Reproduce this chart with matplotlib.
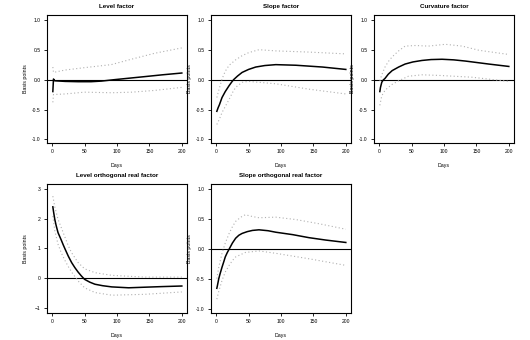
import numpy as np
import matplotlib
matplotlib.use('Agg')
import matplotlib.pyplot as plt

# ===================== 全局设置 =====================
plt.rcParams['font.family'] = ['Liberation Sans', 'DejaVu Sans']
plt.rcParams['axes.linewidth'] = 0.8

# ===================== 数据 =====================
TITLES = ['Level factor', 'Slope factor', 'Curvature factor',
          'Level orthogonal real factor', 'Slope orthogonal real factor']
X_TICKS = [0, 50, 100, 150, 200]

# Level factor
level_days = [1, 2, 4, 20, 40, 60, 76, 97, 120, 143, 170, 200]
level_irf = [-0.2, 0.01, -0.02, -0.03, -0.035, -0.035, -0.025, 0.0, 0.025, 0.05, 0.08, 0.11]
level_up_days = [1, 2, 20, 50, 91, 122, 158, 200]
level_up = [0.21, 0.12, 0.16, 0.2, 0.25, 0.34, 0.44, 0.53]
level_lo_days = [1, 2, 20, 50, 92, 123, 159, 200]
level_lo = [-0.38, -0.25, -0.24, -0.21, -0.22, -0.21, -0.18, -0.13]

# Slope factor
slope_days = [1, 3, 5, 7, 9, 12, 14, 17, 20, 24, 27, 33, 40, 50, 61, 75, 92, 123, 164, 200]
slope_irf = [-0.53, -0.47, -0.42, -0.36, -0.30, -0.24, -0.2, -0.15, -0.1, -0.04, 0.0, 0.06,
             0.12, 0.17, 0.21, 0.235, 0.25, 0.24, 0.21, 0.17]
slope_up_days = [1, 5, 9, 14, 20, 30, 40, 50, 66, 92, 143, 200]
slope_up = [-0.3, -0.14, 0.01, 0.14, 0.24, 0.33, 0.4, 0.45, 0.5, 0.48, 0.46, 0.43]
slope_lo_days = [1, 5, 9, 14, 20, 25, 30, 40, 50, 92, 143, 200]
slope_lo = [-0.75, -0.66, -0.55, -0.45, -0.33, -0.22, -0.13, -0.045, -0.03, -0.07, -0.16, -0.24]

# Curvature factor
curv_days = [1, 2, 4, 6, 9, 14, 20, 30, 40, 52, 66, 80, 97, 115, 133, 169, 200]
curv_irf = [-0.2, -0.13, -0.045, -0.01, 0.02, 0.09, 0.15, 0.21, 0.26, 0.295, 0.32, 0.335,
            0.34, 0.33, 0.31, 0.26, 0.22]
curv_up_days = [1, 4, 9, 14, 20, 30, 40, 56, 76, 102, 128, 154, 200]
curv_up = [-0.02, 0.08, 0.21, 0.3, 0.38, 0.48, 0.56, 0.57, 0.56, 0.59, 0.56, 0.49, 0.42]
curv_lo_days = [1, 4, 9, 14, 20, 30, 45, 66, 92, 143, 200]
curv_lo = [-0.43, -0.27, -0.18, -0.13, -0.08, -0.02, 0.056, 0.08, 0.07, 0.04, -0.03]

# Level orthogonal real factor
lor_days = [1, 2, 4, 6, 9, 12, 14, 17, 20, 25, 30, 35, 40, 45, 50, 58, 66, 78, 92, 118,
            143, 169, 200]
lor_irf = [2.4, 2.25, 1.98, 1.78, 1.53, 1.38, 1.28, 1.12, 0.97, 0.73, 0.52, 0.35, 0.2,
           0.07, -0.045, -0.14, -0.21, -0.26, -0.30, -0.33, -0.31, -0.29, -0.27]
lor_up_days = [1, 4, 9, 14, 20, 25, 30, 40, 50, 66, 92, 143, 200]
lor_up = [2.76, 2.4, 1.98, 1.7, 1.36, 1.08, 0.85, 0.52, 0.31, 0.18, 0.09, 0.03, 0.03]
lor_lo_days = [1, 4, 9, 14, 20, 25, 30, 40, 50, 66, 92, 143, 200]
lor_lo = [2.09, 1.6, 1.14, 0.85, 0.58, 0.38, 0.2, -0.1, -0.33, -0.49, -0.58, -0.55, -0.47]

# Slope orthogonal real factor
sor_days = [1, 2, 4, 6, 9, 12, 14, 17, 20, 25, 30, 35, 40, 48, 56, 66, 80, 92, 118, 143,
            169, 200]
sor_irf = [-0.65, -0.6, -0.49, -0.41, -0.30, -0.2, -0.13, -0.06, 0.0, 0.1, 0.18, 0.23,
           0.26, 0.29, 0.31, 0.32, 0.305, 0.28, 0.24, 0.19, 0.15, 0.11]
sor_up_days = [1, 4, 9, 14, 20, 25, 30, 38, 45, 56, 66, 92, 123, 159, 200]
sor_up = [-0.49, -0.3, -0.07, 0.1, 0.26, 0.37, 0.46, 0.53, 0.57, 0.54, 0.52, 0.53, 0.49,
          0.42, 0.33]
sor_lo_days = [1, 4, 9, 14, 20, 25, 30, 45, 66, 92, 143, 200]
sor_lo = [-0.83, -0.7, -0.52, -0.38, -0.27, -0.19, -0.13, -0.056, -0.03, -0.07, -0.16, -0.27]

PANELS = [
    (level_days, level_irf, level_up_days, level_up, level_lo_days, level_lo),
    (slope_days, slope_irf, slope_up_days, slope_up, slope_lo_days, slope_lo),
    (curv_days, curv_irf, curv_up_days, curv_up, curv_lo_days, curv_lo),
    (lor_days, lor_irf, lor_up_days, lor_up, lor_lo_days, lor_lo),
    (sor_days, sor_irf, sor_up_days, sor_up, sor_lo_days, sor_lo),
]

# ===================== 画图 =====================
fig = plt.figure(figsize=(5.3, 3.4), dpi=100)
W, H = 530.0, 340.0
lefts = [47, 211, 374]
rows = [(15, 143), (184, 313)]
positions = [(lefts[0], rows[0]), (lefts[1], rows[0]), (lefts[2], rows[0]),
             (lefts[0], rows[1]), (lefts[1], rows[1])]

for i, (panel, (lx, (top, bot))) in enumerate(zip(PANELS, positions)):
    ax = fig.add_axes([lx / W, 1 - bot / H, 140 / W, (bot - top) / H])
    d, irf, ud, up, ld, lo = panel
    ax.axhline(0, color='black', linewidth=0.8, zorder=1)
    ax.plot(ud, up, color='#b0b0b0', linestyle=(0, (1, 2.2)), linewidth=0.8)
    ax.plot(ld, lo, color='#b0b0b0', linestyle=(0, (1, 2.2)), linewidth=0.8)
    ax.plot(d, irf, color='black', linewidth=1.1, zorder=3)

    ax.set_xlim(-8, 208)
    ax.set_xticks(X_TICKS)
    if i == 3:
        ax.set_ylim(-1.18, 3.17)
        ax.set_yticks([-1, 0, 1, 2, 3])
    else:
        ax.set_ylim(-1.06, 1.08)
        ax.set_yticks([-1.0, -0.5, 0.0, 0.5, 1.0])
        ax.set_yticklabels(['-1.0', '-0.5', '0.0', '0.5', '1.0'])

    ax.tick_params(direction='out', length=2, width=0.6, labelsize=3.6, pad=2.5)
    ax.set_title(TITLES[i], fontsize=4.5, fontweight='bold', pad=5)
    ax.set_xlabel('Days', fontsize=3.8)
    ax.set_ylabel('Basis points', fontsize=3.8)
    ax.xaxis.set_label_coords(0.5, -20 / (bot - top))
    ax.yaxis.set_label_coords(-19 / 140, 0.5)

plt.savefig('out.png', dpi=100)
